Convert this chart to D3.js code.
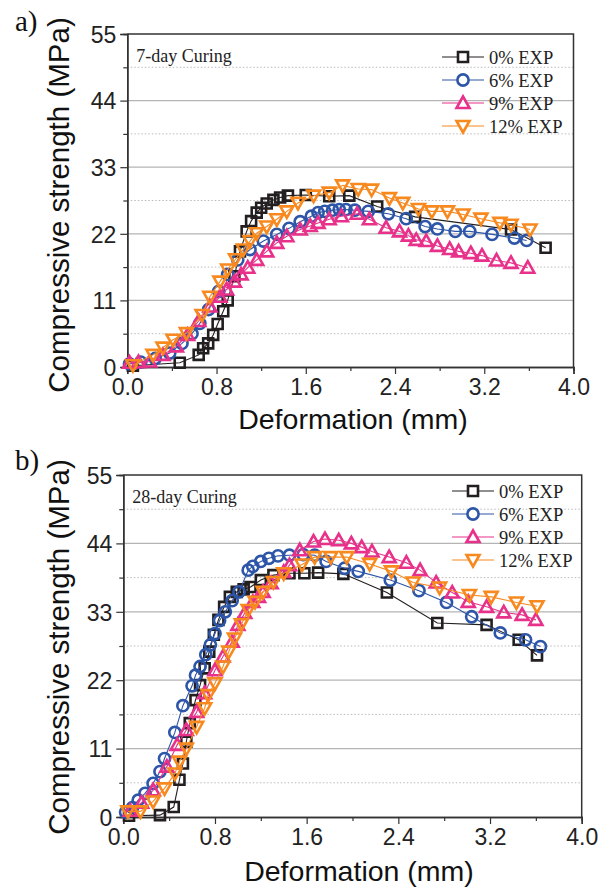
<!DOCTYPE html>
<html>
<head>
<meta charset="utf-8">
<script src="https://cdn.jsdelivr.net/npm/d3@7"></script>
<style>
  body { margin: 0; background: #fff; }
  svg { display: block; }
</style>
</head>
<body>
<svg id="canvas" width="609" height="889"></svg>
<script>
// series labels + colours
let seriesNames = ['0% EXP', '6% EXP', '9% EXP', '12% EXP']
let seriesColors = ['#231f20', '#2d55a8', '#e8318b', '#f7891f']
let seriesSymbols = ['square', 'circle', 'triangle', 'triangleDown']

let yTicks = [0, 11, 22, 33, 44, 55]
let xTicks = [0.0, 0.8, 1.6, 2.4, 3.2, 4.0]

// a) 7-day curing
let a0x = [0.05, 0.47, 0.64, 0.68, 0.725, 0.77, 0.81, 0.86, 0.90, 0.96, 1.01, 1.07, 1.11, 1.16, 1.20, 1.25, 1.31, 1.37, 1.44, 1.60, 1.81, 1.99, 2.24, 2.58, 3.44, 3.75]
let a0y = [0.2, 0.7, 2.0, 3.1, 3.9, 5.3, 7.1, 9.2, 11.0, 15.0, 19.1, 22.4, 24.1, 25.5, 26.3, 27.0, 27.6, 28.0, 28.3, 28.4, 28.2, 28.3, 26.5, 24.8, 22.7, 19.7]
let a6x = [0.02, 0.12, 0.25, 0.38, 0.49, 0.58, 0.65, 0.73, 0.82, 0.90, 0.99, 1.10, 1.22, 1.34, 1.45, 1.55, 1.65, 1.71, 1.77, 1.84, 1.90, 1.96, 2.04, 2.16, 2.34, 2.50, 2.67, 2.78, 2.94, 3.07, 3.27, 3.47, 3.58]
let a6y = [0.5, 0.8, 1.4, 2.3, 3.9, 5.5, 7.2, 9.5, 12.5, 15.3, 17.7, 19.4, 20.8, 21.9, 22.9, 24.0, 24.9, 25.5, 25.7, 25.9, 26.0, 26.0, 25.9, 25.7, 25.3, 24.5, 23.2, 22.8, 22.4, 22.4, 21.9, 21.3, 20.9]
let a9x = [0.02, 0.10, 0.20, 0.32, 0.44, 0.54, 0.64, 0.74, 0.83, 0.89, 0.96, 1.02, 1.08, 1.16, 1.25, 1.34, 1.43, 1.55, 1.64, 1.71, 1.81, 1.92, 2.06, 2.17, 2.32, 2.44, 2.52, 2.59, 2.68, 2.78, 2.89, 2.97, 3.08, 3.18, 3.31, 3.44, 3.59]
let a9y = [0.7, 0.8, 0.9, 2.0, 3.4, 5.3, 7.6, 10.0, 11.6, 12.8, 14.1, 15.3, 16.4, 17.7, 19.1, 20.5, 21.6, 22.7, 23.3, 23.8, 24.4, 24.9, 25.3, 24.4, 23.0, 22.4, 21.7, 21.0, 20.8, 20.0, 19.5, 19.1, 18.8, 18.4, 17.6, 17.2, 16.4]
let a12x = [0.05, 0.23, 0.32, 0.41, 0.53, 0.67, 0.74, 0.83, 0.90, 0.97, 1.04, 1.10, 1.16, 1.25, 1.34, 1.43, 1.53, 1.67, 1.81, 1.93, 2.07, 2.19, 2.35, 2.47, 2.61, 2.73, 2.87, 3.01, 3.17, 3.34, 3.44, 3.61]
let a12y = [0.3, 2.0, 3.2, 4.5, 5.6, 8.6, 11.6, 14.1, 16.1, 17.8, 19.4, 20.8, 22.1, 23.2, 24.4, 25.7, 27.1, 28.3, 28.8, 30.0, 29.4, 29.3, 27.9, 27.1, 26.1, 25.7, 25.7, 25.2, 24.5, 23.8, 23.5, 22.7]

// b) 28-day curing
let b0x = [0.05, 0.32, 0.44, 0.49, 0.52, 0.55, 0.58, 0.63, 0.67, 0.71, 0.75, 0.79, 0.83, 0.88, 0.93, 0.99, 1.05, 1.11, 1.20, 1.31, 1.45, 1.58, 1.70, 1.92, 2.30, 2.74, 3.17, 3.45, 3.61]
let b0y = [0.2, 0.3, 1.6, 6.0, 8.6, 12.1, 15.1, 18.8, 21.2, 23.9, 26.6, 29.3, 31.7, 33.8, 35.4, 36.2, 36.6, 37.0, 38.1, 38.9, 39.2, 39.2, 39.3, 39.1, 36.1, 31.2, 30.9, 28.5, 26.0]
let b6x = [0.02, 0.08, 0.13, 0.19, 0.26, 0.32, 0.36, 0.45, 0.52, 0.60, 0.63, 0.67, 0.72, 0.76, 0.80, 0.84, 0.89, 0.95, 1.01, 1.09, 1.13, 1.20, 1.27, 1.35, 1.45, 1.57, 1.67, 1.77, 1.93, 2.05, 2.33, 2.58, 2.82, 3.04, 3.29, 3.51, 3.64]
let b6y = [0.8, 1.5, 2.7, 3.8, 5.4, 7.3, 9.4, 13.6, 17.9, 21.1, 22.8, 24.2, 26.1, 27.7, 29.5, 31.6, 33.0, 34.8, 36.2, 39.7, 40.3, 41.1, 41.6, 42.0, 42.1, 42.2, 42.1, 41.1, 40.0, 39.5, 38.1, 36.4, 34.5, 32.2, 29.6, 28.5, 27.4]
let b9x = [0.06, 0.16, 0.26, 0.38, 0.47, 0.55, 0.64, 0.71, 0.80, 0.87, 0.95, 1.00, 1.06, 1.13, 1.18, 1.22, 1.29, 1.40, 1.45, 1.54, 1.66, 1.76, 1.88, 1.99, 2.08, 2.17, 2.32, 2.47, 2.59, 2.73, 2.87, 3.01, 3.17, 3.32, 3.48, 3.60]
let b9y = [1.0, 2.3, 4.3, 8.1, 11.6, 14.0, 16.9, 19.9, 23.6, 25.8, 28.2, 30.9, 32.8, 34.6, 35.4, 36.2, 37.6, 39.4, 40.5, 42.9, 44.3, 44.7, 44.5, 44.0, 43.4, 42.7, 41.8, 40.9, 39.7, 37.7, 36.1, 34.6, 33.8, 32.9, 32.5, 31.7]
let b12x = [0.04, 0.15, 0.26, 0.36, 0.45, 0.49, 0.55, 0.64, 0.71, 0.74, 0.80, 0.87, 0.92, 0.97, 1.03, 1.09, 1.15, 1.22, 1.31, 1.40, 1.56, 1.67, 1.81, 1.95, 2.15, 2.34, 2.53, 2.76, 3.02, 3.21, 3.43, 3.61]
let b12y = [0.9, 0.9, 2.5, 4.6, 7.0, 8.9, 11.0, 14.5, 17.5, 19.6, 21.5, 24.2, 26.6, 28.7, 31.0, 33.3, 34.6, 36.2, 37.8, 39.2, 40.6, 41.8, 41.8, 41.8, 40.7, 39.5, 37.7, 36.9, 35.7, 35.4, 34.5, 33.9]

let canvas = d3.select('#canvas')

let sansFont = "'Liberation Sans', Arial, sans-serif"
let serifFont = "'Liberation Serif', 'Times New Roman', serif"
let axisColor = '#333'

let zip = (xs, ys) => xs.map((x, i) => ({x: x, y: ys[i]}))

let symbolPath = (kind) => {
    if (kind === 'square') return 'M-5,-5H5V5H-5Z'
    if (kind === 'circle') return 'M5.6,0A5.6,5.6 0 1,1 -5.6,0A5.6,5.6 0 1,1 5.6,0Z'
    if (kind === 'triangle') return 'M0,-6.5L6.5,5L-6.5,5Z'
    return 'M0,6.5L6.5,-5L-6.5,-5Z'
}

let drawPanel = (cfg) => {
    let x = d3.scaleLinear().domain([0, 4]).range([cfg.left, cfg.right])
    let y = d3.scaleLinear().domain([0, 55]).range([cfg.bottom, cfg.top])
    let g = canvas.append('g')

    // grid: solid at majors, dotted at halves
    g.selectAll('.gmaj').data(yTicks.slice(1, -1)).enter().append('line')
        .attr('x1', cfg.left).attr('x2', cfg.right)
        .attr('y1', d => y(d)).attr('y2', d => y(d))
        .attr('stroke', '#b4b4b4').attr('stroke-width', 1.2)
    g.selectAll('.gmin').data(yTicks.slice(0, -1).map(d => d + 5.5)).enter().append('line')
        .attr('x1', cfg.left).attr('x2', cfg.right)
        .attr('y1', d => y(d)).attr('y2', d => y(d))
        .attr('stroke', '#bbb').attr('stroke-width', 1).attr('stroke-dasharray', '1.5,2')

    // minor ticks
    g.append('g')
        .attr('transform', 'translate(0,' + cfg.bottom + ')')
        .call(d3.axisBottom(x).tickValues([0.4, 1.2, 2.0, 2.8, 3.6]).tickSize(4).tickFormat(''))
    g.append('g')
        .attr('transform', 'translate(' + cfg.left + ',0)')
        .call(d3.axisLeft(y).tickValues([5.5, 16.5, 27.5, 38.5, 49.5]).tickSize(4).tickFormat(''))

    g.append('g')
        .attr('transform', 'translate(0,' + cfg.bottom + ')')
        .call(d3.axisBottom(x).tickValues(xTicks).tickSize(7).tickPadding(5).tickFormat(d3.format('.1f')))
    let yAxis = g.append('g')
        .attr('transform', 'translate(' + cfg.left + ',0)')
        .call(d3.axisLeft(y).tickValues(yTicks).tickSize(7).tickPadding(4))

    g.selectAll('.domain').attr('stroke', axisColor).attr('stroke-width', 1.5)
    g.selectAll('.tick line').attr('stroke', axisColor).attr('stroke-width', 1.2)
    g.selectAll('.tick text').attr('fill', '#222').style('font-family', sansFont).style('font-size', '23px')
    yAxis.selectAll('.tick text').attr('dy', '0.36em')

    // top and right frame
    g.append('path')
        .attr('d', 'M' + cfg.left + ',' + cfg.top + 'H' + cfg.right + 'V' + cfg.bottom)
        .attr('fill', 'none').attr('stroke', axisColor).attr('stroke-width', 1.5)

    // series
    let line = d3.line().x(d => x(d.x)).y(d => y(d.y))
    cfg.series.forEach((pts, i) => {
        g.append('path')
            .datum(pts)
            .attr('d', line)
            .attr('fill', 'none')
            .attr('stroke', seriesColors[i])
            .attr('stroke-width', 1.1)
        g.selectAll('.m' + i).data(pts).enter().append('path')
            .attr('transform', d => 'translate(' + x(d.x) + ',' + y(d.y) + ')')
            .attr('d', symbolPath(seriesSymbols[i]))
            .attr('fill', 'none')
            .attr('stroke', seriesColors[i])
            .attr('stroke-width', 2.6)
    })

    // legend
    seriesNames.forEach((name, i) => {
        let ly = cfg.legendY + i * 23
        g.append('line')
            .attr('x1', cfg.legendX - 21).attr('x2', cfg.legendX + 21)
            .attr('y1', ly).attr('y2', ly)
            .attr('stroke', seriesColors[i]).attr('stroke-width', 1.2)
        g.append('path')
            .attr('transform', 'translate(' + cfg.legendX + ',' + ly + ')')
            .attr('d', symbolPath(seriesSymbols[i]))
            .attr('fill', '#fff')
            .attr('stroke', seriesColors[i])
            .attr('stroke-width', 2.6)
        g.append('text')
            .attr('x', cfg.legendX + 26).attr('y', ly + 6.5)
            .style('font-family', serifFont).style('font-size', '18.5px')
            .attr('fill', '#222')
            .text(name)
    })

    g.append('text')
        .attr('x', cfg.left + 9).attr('y', cfg.top + 28)
        .style('font-family', serifFont).style('font-size', '18px')
        .attr('fill', '#222')
        .text(cfg.note)

    g.append('text')
        .attr('x', 15).attr('y', cfg.labelY)
        .style('font-family', serifFont).style('font-size', '29px')
        .attr('fill', '#111')
        .text(cfg.label)

    g.append('text')
        .attr('transform', 'translate(69,' + cfg.yTitleY + ') rotate(-90)')
        .style('text-anchor', 'middle')
        .style('font-family', sansFont).style('font-size', '29.5px')
        .attr('fill', '#111')
        .text('Compressive strength (MPa)')

    g.append('text')
        .attr('x', cfg.xTitleX).attr('y', cfg.xTitleY)
        .style('text-anchor', 'middle')
        .style('font-family', sansFont).style('font-size', '28.5px')
        .attr('fill', '#111')
        .text('Deformation (mm)')
}

drawPanel({
    left: 127.3, right: 573.5, top: 34, bottom: 367,
    series: [zip(a0x, a0y), zip(a6x, a6y), zip(a9x, a9y), zip(a12x, a12y)],
    legendX: 463, legendY: 57,
    note: '7-day Curing', label: 'a)', labelY: 31,
    yTitleY: 205, xTitleX: 353, xTitleY: 429
})

drawPanel({
    left: 123.3, right: 581.7, top: 475, bottom: 817,
    series: [zip(b0x, b0y), zip(b6x, b6y), zip(b9x, b9y), zip(b12x, b12y)],
    legendX: 473, legendY: 491,
    note: '28-day Curing', label: 'b)', labelY: 470,
    yTitleY: 647, xTitleX: 359, xTitleY: 881
})
</script>
</body>
</html>
